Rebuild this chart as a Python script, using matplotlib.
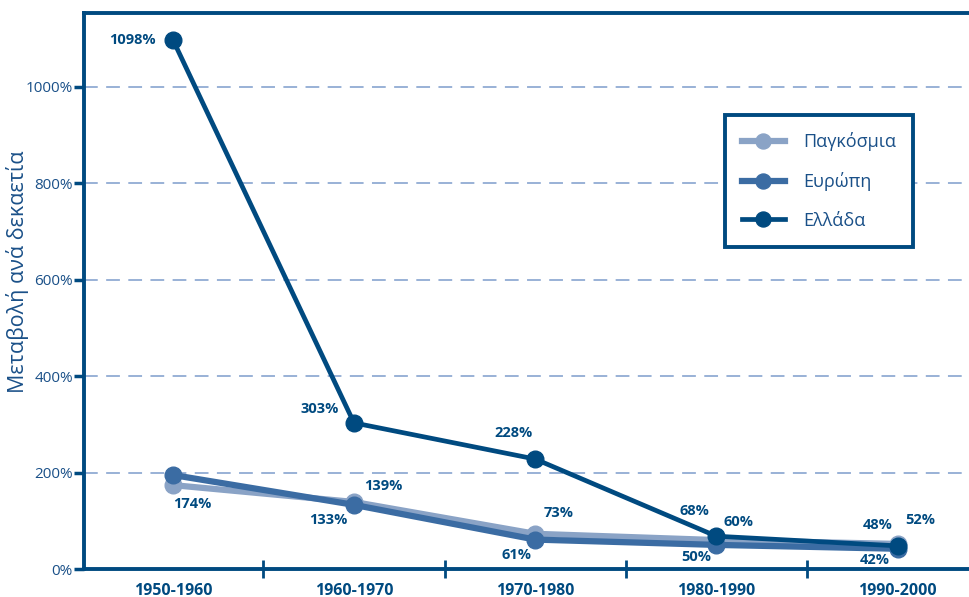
import matplotlib.pyplot as plt
from matplotlib.ticker import FixedLocator

plt.rcParams['font.family'] = ['Open Sans', 'DejaVu Sans']

# Decades and percentage change per decade
decades = ['1950-1960', '1960-1970', '1970-1980', '1980-1990', '1990-2000']
world = [174, 139, 73, 60, 52]
europe = [195, 133, 61, 50, 42]
greece = [1098, 303, 228, 68, 48]

# which points get a value label, and where (pixel offsets from the marker)
world_offsets = [(20, -19), (29, 16), (23, 21), (22, 18), (23, 24)]
europe_offsets = [None, (-26, -15), (-19, -15), (-20, -12), (-23, -11)]
greece_offsets = [(-40, 0), (-34, 14), (-22, 26), (-22, 25), (-20, 21)]

navy = '#004a80'
mid = '#3b6ca3'
light = '#8aa3c6'
text_col = '#1a5088'
grid_col = '#7d9ccb'

fig = plt.figure(figsize=(9.69, 5.97), dpi=100)
ax = fig.add_axes([0.0867, 0.0469, 0.92, 0.9313])

x = list(range(len(decades)))
ax.plot(x, world, color=light, lw=4.5, marker='o', ms=12, label='Παγκόσμια', zorder=3)
ax.plot(x, europe, color=mid, lw=4.5, marker='o', ms=12, label='Ευρώπη', zorder=4)
ax.plot(x, greece, color=navy, lw=3.4, marker='o', ms=12, label='Ελλάδα', zorder=5)

for vals, offs in [(world, world_offsets), (europe, europe_offsets), (greece, greece_offsets)]:
    for i, (v, o) in enumerate(zip(vals, offs)):
        if o is None:
            continue
        ax.annotate(f'{v}%', (i, v), xytext=o, textcoords='offset pixels',
                    ha='center', va='center', fontsize=10.5, fontweight='bold',
                    color=navy, zorder=6)

ax.set_xlim(-0.49, 4.43)
ax.set_ylim(0, 1153)

ax.set_yticks([0, 200, 400, 600, 800, 1000])
ax.set_yticklabels(['0%', '200%', '400%', '600%', '800%', '1000%'])
ax.tick_params(axis='y', direction='out', length=7, width=2.5, color=navy,
               labelcolor=text_col, labelsize=11, pad=1)
ax.yaxis.grid(True, linestyle=(0, (9, 5.5)), color=grid_col, lw=1.1)
ax.set_axisbelow(True)

ax.set_xticks(x)
ax.set_xticklabels(decades, fontweight='bold', fontsize=11.5, color=navy)
ax.xaxis.set_minor_locator(FixedLocator([0.5, 1.5, 2.5, 3.5]))
ax.tick_params(axis='x', which='major', length=0, pad=10)
ax.tick_params(axis='x', which='minor', direction='inout', length=13, width=2, color=navy)

# y label placed in figure coords so it stays inside the left margin
fig.text(18 / 969, 1 - 272 / 597, 'Μεταβολή ανά δεκαετία', rotation=90,
         ha='center', va='center', fontsize=15.5, color=text_col)

for side in ['left', 'top', 'bottom']:
    ax.spines[side].set_color(navy)
    ax.spines[side].set_linewidth(2.8)
ax.spines['right'].set_visible(False)

leg = ax.legend(loc='upper left', bbox_to_anchor=(0.7186, 0.8165), fancybox=False,
                framealpha=1, fontsize=13, labelspacing=1.15, handlelength=2.4,
                borderpad=0.95, handletextpad=1.0, borderaxespad=0, markerscale=0.9)
leg.get_frame().set_edgecolor(navy)
leg.get_frame().set_linewidth(2.8)
for t in leg.get_texts():
    t.set_color(text_col)

fig.savefig('out.png', dpi=100)
